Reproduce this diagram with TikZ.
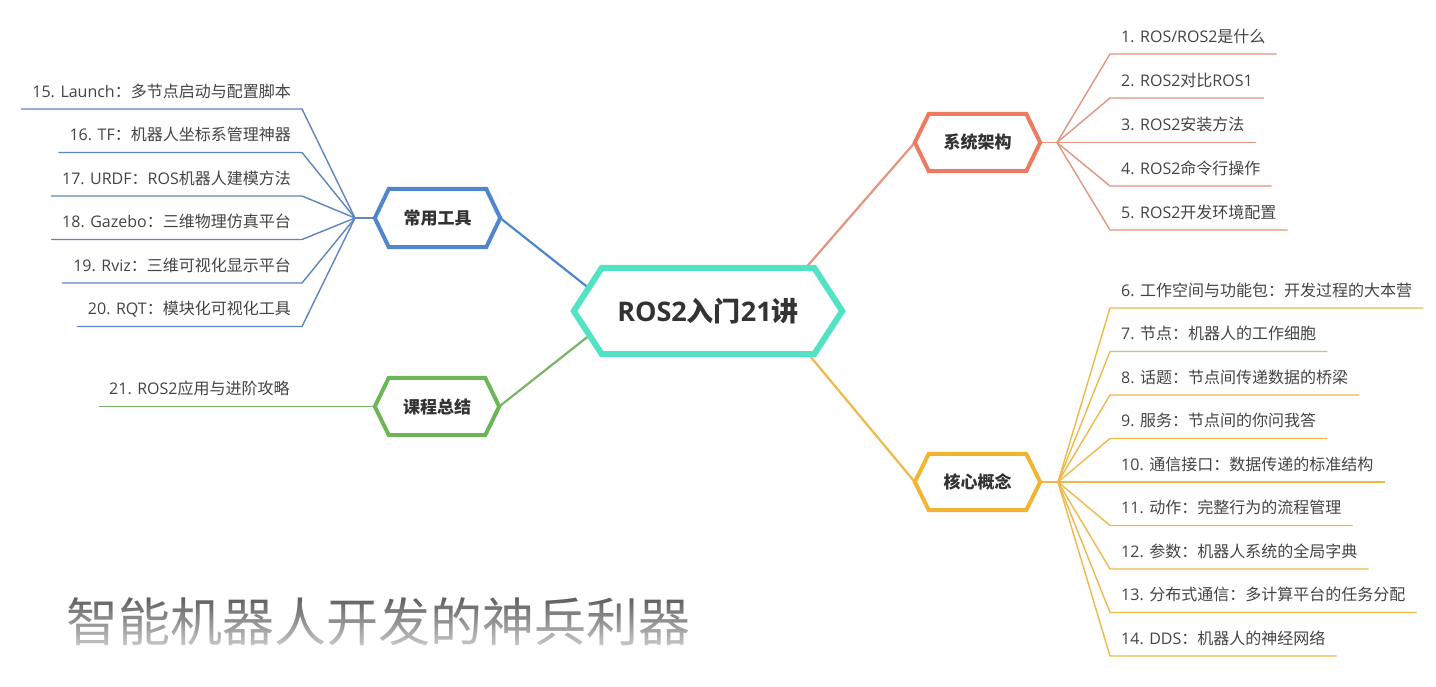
\documentclass[tikz,border=0pt]{standalone}
\usepackage{fontspec}
\setmainfont{Open Sans}
\newfontfamily\cjkfont{Noto Sans CJK SC}
\usetikzlibrary{calc,fadings}
\newcommand\zh[1]{{\cjkfont #1}}
\definecolor{turq}{HTML}{52E2C4}
\definecolor{orangeC}{HTML}{EE7B5F}
\definecolor{orangeL}{HTML}{E3957F}
\definecolor{yellowC}{HTML}{F3B531}
\definecolor{yellowL}{HTML}{EDB94A}
\definecolor{blueC}{HTML}{4F86CD}
\definecolor{blueL}{HTML}{5B86BE}
\definecolor{greenC}{HTML}{6DB558}
\definecolor{greenL}{HTML}{7AB46A}
\definecolor{lblgray}{HTML}{444444}
\definecolor{hexgray}{HTML}{333333}
\definecolor{titlegray}{HTML}{5E5E5E}
\pgfdeclarelayer{bg}
\pgfdeclarelayer{hexl}
\pgfsetlayers{bg,hexl,main}
\tikzfading[name=titlefade, top color=transparent!100, bottom color=transparent!0]
\newcommand\myhex[4]{%
  \coordinate (#1L) at ($(#1.west)+(-#3,0)$);
  \coordinate (#1R) at ($(#1.east)+(#3,0)$);
  \begin{pgfonlayer}{hexl}
    \draw[line width=#4, draw=#2, fill=white] (#1L) -- (#1.north west) -- (#1.north east) -- (#1R) -- (#1.south east) -- (#1.south west) -- cycle;
  \end{pgfonlayer}}
\begin{document}
\begin{tikzpicture}[x=1pt,y=-1pt,
  lbl/.style={inner xsep=11pt, inner ysep=11.5pt, text depth=0pt, font=\fontsize{16}{19}\selectfont, text=lblgray},
  hexlbl/.style={font=\fontsize{17}{20}\selectfont\bfseries, text=hexgray, inner sep=0pt},
  fanline/.style={line width=1.4pt},
  link/.style={line width=2.2pt}]
\begin{pgfonlayer}{bg}
  \fill[white] (0,0) rectangle (1436,686);
\end{pgfonlayer}
\useasboundingbox (0,0) rectangle (1436,686);

% central node
\node[font=\fontsize{27}{32}\selectfont\bfseries, text=hexgray, inner sep=0pt, minimum width=212pt, minimum height=86pt] (root) at (708,311) {ROS2\zh{入门}21\zh{讲}};
\myhex{root}{turq}{28}{6pt}

% main topics
\node[hexlbl, minimum width=97pt, minimum height=57pt] (sys) at (977.5,142.5) {\zh{系统架构}};
\myhex{sys}{orangeC}{14}{4pt}
\node[hexlbl, minimum width=97pt, minimum height=56pt] (core) at (977.5,482) {\zh{核心概念}};
\myhex{core}{yellowC}{14}{4pt}
\node[hexlbl, minimum width=97pt, minimum height=58pt] (tools) at (437.5,218) {\zh{常用工具}};
\myhex{tools}{blueC}{14}{4pt}
\node[hexlbl, minimum width=96pt, minimum height=57pt] (sum) at (437,406.5) {\zh{课程总结}};
\myhex{sum}{greenC}{14}{4pt}

% fan points and attachment points on the central node
\coordinate (sysF) at (1057,142.5);
\coordinate (coreF) at (1058,482);
\coordinate (toolsF) at (355,218);
\coordinate (rootS) at (790,286);
\coordinate (rootC) at (795,338);
\coordinate (rootT) at (600,297);
\coordinate (rootU) at (600,327);

% system architecture items
\node[lbl, anchor=south west] (t1) at (1110,54) {1. ROS/ROS2\zh{是什么}};
\node[lbl, anchor=south west] (t2) at (1110,98) {2. ROS2\zh{对比}ROS1};
\node[lbl, anchor=south west] (t3) at (1110,142.5) {3. ROS2\zh{安装方法}};
\node[lbl, anchor=south west] (t4) at (1110,186) {4. ROS2\zh{命令行操作}};
\node[lbl, anchor=south west] (t5) at (1110,230) {5. ROS2\zh{开发环境配置}};

% core concept items
\node[lbl, anchor=south west] (t6) at (1110,308) {6. \zh{工作空间与功能包：开发过程的大本营}};
\node[lbl, anchor=south west] (t7) at (1110,351.5) {7. \zh{节点：机器人的工作细胞}};
\node[lbl, anchor=south west] (t8) at (1110,395) {8. \zh{话题：节点间传递数据的桥梁}};
\node[lbl, anchor=south west] (t9) at (1110,438.5) {9. \zh{服务：节点间的你问我答}};
\node[lbl, anchor=south west] (t10) at (1110,482) {10. \zh{通信接口：数据传递的标准结构}};
\node[lbl, anchor=south west] (t11) at (1110,525.5) {11. \zh{动作：完整行为的流程管理}};
\node[lbl, anchor=south west] (t12) at (1110,569) {12. \zh{参数：机器人系统的全局字典}};
\node[lbl, anchor=south west] (t13) at (1110,612.5) {13. \zh{分布式通信：多计算平台的任务分配}};
\node[lbl, anchor=south west] (t14) at (1110,656) {14. DDS\zh{：机器人的神经网络}};

% tool items
\node[lbl, anchor=south east] (t15) at (302,109) {15. Launch\zh{：多节点启动与配置脚本}};
\node[lbl, anchor=south east] (t16) at (302,152.5) {16. TF\zh{：机器人坐标系管理神器}};
\node[lbl, anchor=south east] (t17) at (302,196) {17. URDF\zh{：}ROS\zh{机器人建模方法}};
\node[lbl, anchor=south east] (t18) at (302,239.5) {18. Gazebo\zh{：三维物理仿真平台}};
\node[lbl, anchor=south east] (t19) at (302,283) {19. Rviz\zh{：三维可视化显示平台}};
\node[lbl, anchor=south east] (t20) at (302,326.5) {20. RQT\zh{：模块化可视化工具}};

% summary item
\node[lbl, anchor=south west, inner xsep=10pt] (t21) at (99,406.5) {21. ROS2\zh{应用与进阶攻略}};

% title
\node[font=\fontsize{52}{60}\selectfont, text=titlegray, inner sep=0pt, anchor=base west] (title) at (66,641) {\zh{智能机器人开发的神兵利器}};
\fill[white, fill opacity=0.65, path fading=titlefade] (title.north west) rectangle (title.south east);

\begin{pgfonlayer}{bg}
  \draw[link, orangeL] (rootS) -- (sysL);
  \draw[link, yellowL] (rootC) -- (coreL);
  \draw[link, blueC] (toolsR) -- (rootT);
  \draw[link, greenL] (sumR) -- (rootU);
  \draw[fanline, orangeL] (sysR) -- (sysF);
  \foreach \i in {1,...,5} {\draw[fanline, orangeL] (sysF) -- (t\i.south west) -- (t\i.south east);}
  \draw[fanline, yellowL] (coreR) -- (coreF);
  \foreach \i in {6,...,14} {\draw[fanline, yellowL] (coreF) -- (t\i.south west) -- (t\i.south east);}
  \draw[fanline, blueL] (toolsL) -- (toolsF);
  \foreach \i in {15,...,20} {\draw[fanline, blueL] (toolsF) -- (t\i.south east) -- (t\i.south west);}
  \draw[fanline, greenL] (sumL) -- (t21.south west);
\end{pgfonlayer}
\end{tikzpicture}
\end{document}
